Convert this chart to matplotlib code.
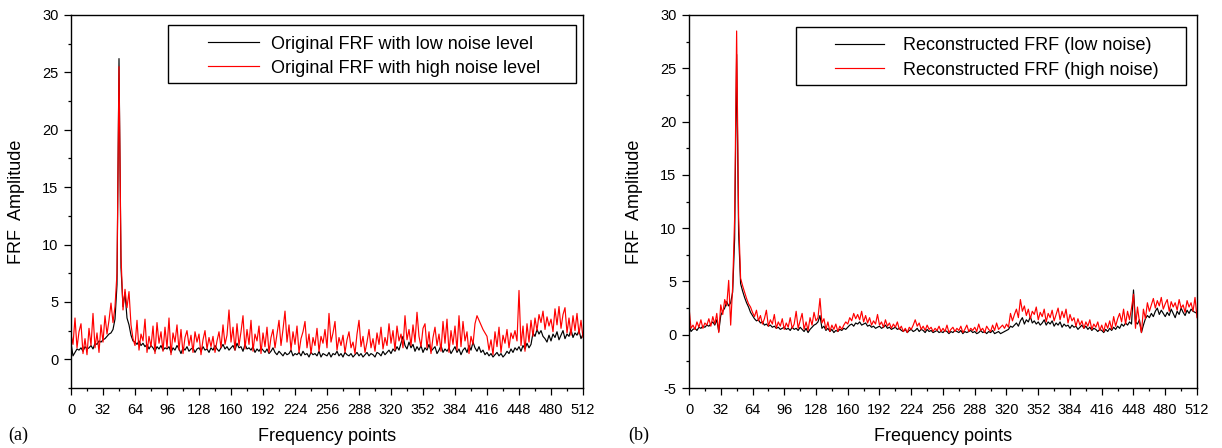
import matplotlib
matplotlib.use("Agg")
import matplotlib.pyplot as plt
from matplotlib.patches import Rectangle
from matplotlib.ticker import MultipleLocator
import numpy as np

plt.rcParams["font.family"] = ["Liberation Sans", "DejaVu Sans"]
plt.rcParams["axes.unicode_minus"] = False

# frequency points, read every 2nd point (0..512)
freq = np.arange(0, 513, 2)

# (a) original FRF, low noise
orig_low = [
    1.4, 0.3, 0.6, 0.9, 0.8, 1.0, 0.7, 1.1, 0.9, 1.0, 1.2, 0.9, 1.4, 1.3, 1.6, 1.5,
    1.7, 1.8, 2.0, 2.2, 2.3, 2.6, 3.5, 6.5, 26.2, 8.0, 4.6, 5.8, 3.6, 3.0, 2.1, 1.6,
    1.5, 1.3, 1.6, 1.2, 1.4, 1.1, 1.3, 0.9, 1.2, 1.0, 0.7, 1.1, 0.9, 1.2, 0.8, 1.0,
    0.9, 1.1, 0.6, 1.0, 0.8, 1.2, 0.9, 0.5, 1.0, 0.8, 1.1, 0.7, 0.9, 1.0, 0.6, 0.9,
    1.0, 0.7, 1.1, 0.8, 0.9, 0.6, 1.0, 0.8, 1.2, 0.9, 0.7, 1.0, 1.3, 0.9, 1.1, 0.8,
    1.0, 1.2, 0.8, 1.4, 1.0, 1.1, 0.7, 1.3, 0.9, 1.0, 0.8, 1.1, 0.6, 0.9, 0.7, 1.0,
    0.8, 0.6, 0.9, 0.5, 0.7, 1.0, 0.6, 0.4, 0.7, 0.5, 0.3, 0.6, 0.4, 0.5, 0.8, 0.3,
    0.5, 0.4, 0.6, 0.3, 0.7, 0.4, 0.5, 0.2, 0.6, 0.4, 0.5, 0.3, 0.7, 0.2, 0.5, 0.4,
    0.3, 0.6, 0.2, 0.5, 0.4, 0.7, 0.3, 0.5, 0.2, 0.6, 0.4, 0.3, 0.5, 0.2, 0.4, 0.6,
    0.3, 0.5, 0.2, 0.4, 0.6, 0.3, 0.5, 0.4, 0.2, 0.6, 0.5, 0.3, 0.7, 0.4, 0.6, 0.8,
    0.5, 0.9, 0.7, 1.1, 0.8, 1.4, 2.0, 1.2, 0.9, 1.5, 1.0, 1.3, 0.7, 1.1, 0.8, 1.2,
    0.6, 1.0, 0.8, 1.3, 0.7, 0.9, 1.1, 0.5, 0.8, 1.2, 0.6, 0.9, 0.7, 1.0, 0.5, 0.8,
    1.1, 0.6, 0.9, 0.4, 0.8, 1.0, 0.6, 1.2, 0.8, 1.5, 1.0, 0.7, 1.1, 0.6, 0.8, 0.4,
    0.6, 0.3, 0.5, 0.2, 0.4, 0.6, 0.3, 0.5, 0.2, 0.4, 0.7, 0.5, 0.9, 0.6, 1.0, 0.8,
    1.1, 0.7, 1.2, 0.9, 1.4, 1.0, 1.3, 2.3, 2.0, 2.6, 2.2, 2.5, 2.0, 1.8, 1.5, 2.1,
    1.6, 2.2, 1.9, 2.4, 1.7, 2.1, 2.5, 1.8, 2.2, 2.0, 2.6, 1.9, 2.3, 2.1, 2.5, 1.8,
    2.2,
]

# (a) original FRF, high noise
orig_high = [
    2.2, 1.3, 3.6, 1.0, 2.4, 3.1, 0.5, 1.8, 0.4, 2.7, 1.2, 4.0, 1.0, 2.3, 0.6, 3.0,
    1.5, 3.8, 2.2, 3.4, 4.9, 3.2, 4.6, 7.5, 25.5, 9.0, 4.3, 6.1, 4.5, 5.9, 3.0, 1.8,
    1.2, 3.4, 0.8, 2.2, 1.6, 3.5, 0.6, 2.0, 1.1, 2.9, 0.5, 3.2, 1.4, 2.4, 0.7, 2.8,
    1.0, 3.6, 0.4, 2.3, 1.5, 3.0, 0.8, 2.6, 0.5, 1.9, 2.5, 1.2, 2.1, 0.6, 2.4, 1.5,
    2.2, 0.4, 1.7, 2.5, 0.9, 1.9, 1.1, 2.0, 0.6, 1.6, 2.4, 1.0, 3.0, 1.3, 2.1, 4.3,
    1.5, 2.8, 0.8, 3.1, 1.2, 2.4, 3.8, 0.9, 2.6, 1.3, 3.4, 0.7, 2.2, 1.6, 2.9, 0.5,
    2.3, 1.1, 2.8, 0.6, 1.9, 2.6, 1.0, 2.2, 3.4, 1.2, 2.6, 4.2, 1.5, 3.0, 0.8, 2.4,
    1.3, 2.9, 0.6, 1.8, 2.4, 3.3, 1.0, 2.2, 0.5, 1.9, 1.2, 2.7, 0.7, 2.0, 1.4, 2.6,
    1.0, 4.0, 1.5, 2.3, 3.3, 0.8, 1.9, 1.2, 2.1, 0.6, 1.7, 2.4, 1.0, 1.5, 0.5, 2.2,
    3.4, 1.1, 2.0, 0.6, 1.5, 2.6, 1.0, 1.8, 0.7, 2.3, 1.3, 2.8, 0.9, 1.9, 1.2, 3.1,
    1.4, 2.5, 0.8, 2.9, 1.6, 2.2, 1.0, 3.8, 1.7, 2.6, 1.2, 3.0, 1.5, 4.1, 2.0, 1.1,
    2.7, 3.1, 1.0, 2.4, 0.5, 1.9, 2.8, 1.2, 2.2, 0.7, 3.3, 1.4, 3.5, 0.6, 2.5, 1.3,
    2.9, 0.8, 3.8, 1.1, 3.3, 1.6, 2.4, 0.5, 2.0, 1.3, 3.1, 3.8, 3.4, 3.0, 2.6, 2.3,
    2.0, 0.8, 1.7, 0.4, 2.4, 1.1, 2.8, 0.6, 2.1, 1.4, 2.6, 1.0, 2.3, 1.8, 2.5, 1.6,
    6.0, 1.2, 2.9, 0.7, 3.1, 1.5, 3.4, 2.0, 3.6, 2.5, 3.9, 3.2, 4.2, 2.6, 3.7, 2.9,
    3.5, 2.4, 4.4, 3.0, 4.6, 2.7, 3.9, 4.5, 2.3, 3.6, 2.1, 3.8, 2.5, 4.0, 2.2, 3.4,
    1.9,
]

# (b) reconstructed FRF, low noise
recon_low = [
    1.0, 0.3, 0.5, 0.6, 0.4, 0.7, 0.6, 0.8, 0.7, 0.9, 0.8, 1.0, 1.2, 0.9, 1.4, 0.3,
    1.8, 2.2, 2.5, 3.1, 2.7, 3.0, 4.0, 9.0, 26.3, 9.5, 4.8, 4.1, 3.5, 3.0, 2.6, 2.1,
    1.8, 1.5, 1.3, 1.4, 1.1, 1.2, 0.9, 1.0, 0.8, 0.9, 0.7, 0.8, 0.6, 0.7, 0.5, 0.6,
    0.7, 0.5, 0.6, 0.4, 0.7, 0.5, 0.6, 0.4, 0.7, 0.5, 0.3, 0.6, 0.2, 0.5, 0.7, 0.9,
    1.0, 1.2, 1.8, 0.6, 0.8, 0.4, 0.6, 0.3, 0.5, 0.2, 0.4, 0.3, 0.5, 0.4, 0.6, 0.5,
    0.7, 0.9, 1.0, 0.8, 1.1, 1.0, 1.2, 0.9, 1.0, 1.1, 0.8, 0.9, 0.7, 0.8, 0.6, 0.7,
    0.8, 0.6, 0.7, 0.9, 0.6, 0.7, 0.5, 0.6, 0.7, 0.5, 0.6, 0.4, 0.3, 0.5, 0.2, 0.4,
    0.5, 0.3, 0.4, 0.6, 0.3, 0.5, 0.4, 0.2, 0.5, 0.3, 0.4, 0.2, 0.3, 0.4, 0.2, 0.3,
    0.2, 0.4, 0.3, 0.1, 0.3, 0.2, 0.4, 0.3, 0.2, 0.4, 0.1, 0.3, 0.2, 0.3, 0.4, 0.2,
    0.3, 0.1, 0.2, 0.4, 0.2, 0.3, 0.1, 0.3, 0.2, 0.4, 0.1, 0.2, 0.3, 0.1, 0.2, 0.3,
    0.4, 0.5, 0.8, 0.7, 0.9, 1.1, 0.8, 1.3, 1.6, 1.0, 1.4, 1.2, 1.7, 1.1, 1.3, 1.0,
    1.2, 0.9, 1.1, 1.4, 0.9, 1.2, 1.0, 1.3, 0.8, 1.1, 0.9, 1.2, 0.7, 1.0, 0.8, 0.9,
    0.6, 0.9, 0.7, 0.8, 0.5, 0.7, 0.9, 0.6, 0.8, 0.5, 0.7, 0.4, 0.6, 0.5, 0.3, 0.5,
    0.4, 0.2, 0.5, 0.3, 0.6, 0.4, 0.7, 0.5, 0.8, 0.6, 1.0, 0.8, 1.1, 0.9, 1.2, 1.0,
    4.2, 1.2, 1.0, 1.4, 0.2, 0.9, 1.5, 1.8, 1.6, 2.0, 1.7, 2.2, 2.5, 1.9, 2.3, 2.0,
    1.7, 2.1, 1.8, 2.4, 2.0, 1.6, 2.2, 1.9, 2.5, 2.1, 1.8, 2.3, 2.0, 2.4, 2.2, 2.1,
    2.0,
]

# (b) reconstructed FRF, high noise
recon_high = [
    2.6, 0.6, 0.9, 0.5, 1.2, 0.7, 1.4, 0.6, 1.1, 0.9, 1.5, 0.8, 1.7, 1.0, 2.0, 0.2,
    2.8, 1.9, 3.3, 2.7, 5.1, 0.9, 4.5, 11.0, 28.5, 11.0, 5.3, 4.6, 4.0, 3.4, 2.9, 2.6,
    2.1, 1.7, 2.3, 1.3, 1.8, 1.0, 1.5, 2.3, 0.8, 1.4, 1.0, 1.9, 0.6, 1.2, 0.8, 1.5,
    0.5, 1.1, 0.7, 1.6, 0.6, 1.0, 2.2, 0.6, 1.3, 2.0, 0.5, 1.2, 0.4, 1.6, 0.9, 2.1,
    1.3, 1.6, 3.4, 1.1, 1.5, 0.5, 1.2, 0.3, 0.9, 0.5, 1.0, 0.3, 0.8, 0.5, 0.9, 1.2,
    1.0, 1.6, 1.3, 2.0, 1.5, 1.9, 1.4, 2.2, 1.2, 1.8, 1.1, 1.6, 0.9, 1.3, 1.0, 1.9,
    0.9, 1.2, 0.7, 1.4, 0.8, 1.1, 0.6, 1.0, 0.7, 1.2, 0.5, 0.8, 0.3, 0.6, 0.2, 0.7,
    0.5, 0.9, 1.4, 0.8, 1.1, 0.5, 0.8, 0.4, 0.9, 0.5, 0.7, 0.3, 0.6, 0.4, 0.8, 0.3,
    0.6, 0.3, 0.9, 0.2, 0.5, 0.7, 0.3, 0.6, 0.4, 0.8, 0.2, 0.5, 0.9, 0.3, 0.6, 0.4,
    0.7, 0.3, 1.0, 0.4, 0.6, 0.2, 0.8, 0.5, 0.3, 0.9, 0.4, 1.1, 0.5, 0.7, 0.9, 0.6,
    1.0, 0.7, 2.0, 1.3, 1.9, 2.4, 1.6, 3.3, 2.2, 2.7, 1.8, 2.4, 1.5, 2.2, 1.9, 2.6,
    1.4, 2.1, 1.7, 2.4, 1.2, 2.0, 1.6, 2.3, 1.3, 1.9, 2.5, 1.4, 2.2, 1.6, 2.4, 1.1,
    1.9, 1.3, 1.6, 0.8, 1.5, 0.9, 1.3, 0.6, 1.2, 0.8, 1.4, 0.5, 1.0, 0.7, 1.2, 0.4,
    0.9, 0.3, 1.1, 0.6, 1.3, 0.5, 1.7, 0.8, 1.5, 2.0, 1.2, 2.4, 1.0, 2.2, 1.4, 2.5,
    3.8, 0.6, 2.6, 1.2, 0.2, 2.4, 1.5, 3.0, 2.2, 2.8, 3.4, 2.5, 3.2, 2.7, 3.5, 2.4,
    2.9, 3.3, 2.2, 3.1, 2.6, 3.0, 2.3, 3.3, 2.5, 2.8, 2.1, 3.2, 2.6, 3.0, 2.2, 3.5,
    1.6,
]

labels_a = ["Original FRF with low noise level", "Original FRF with high noise level"]
labels_b = ["Reconstructed FRF (low noise)", "Reconstructed FRF (high noise)"]
xticks = np.arange(0, 513, 32)

W, H = 1222, 448
fig = plt.figure(figsize=(W / 100, H / 100), dpi=100)


def px_axes(x0, x1, top, bottom):
    return fig.add_axes([x0 / W, 1 - bottom / H, (x1 - x0) / W, (bottom - top) / H])


def style_axes(ax, ylim, yticks):
    ax.set_xlim(0, 512)
    ax.set_ylim(*ylim)
    ax.set_xticks(xticks)
    ax.xaxis.set_minor_locator(MultipleLocator(16))
    ax.set_yticks(yticks)
    ax.yaxis.set_minor_locator(MultipleLocator(2.5))
    ax.tick_params(which="both", direction="out", top=False, right=False,
                   labelsize=10.5, width=0.9)
    ax.tick_params(axis="x", which="major", length=5, pad=6)
    ax.tick_params(axis="y", which="major", length=5, pad=4)
    ax.tick_params(which="minor", length=2.5)
    for s in ax.spines.values():
        s.set_linewidth(1.0)
    ax.set_xlabel("Frequency points", fontsize=13, labelpad=8)
    ax.set_ylabel("FRF  Amplitude", fontsize=13, labelpad=12)


def legend_box(ax, lines, labels, anchor, hlen, hpad, box):
    ax.legend(lines, labels, loc="upper left", bbox_to_anchor=anchor, frameon=False,
              fontsize=13, handlelength=hlen, handletextpad=hpad,
              borderpad=0, borderaxespad=0, labelspacing=0.4)
    ax.add_patch(Rectangle((box[0], box[1]), box[2] - box[0], box[3] - box[1],
                           transform=ax.transAxes, fill=False, lw=1.0,
                           ec="black", zorder=5))


# (a)
ax1 = px_axes(71, 583, 15, 388)
l1, = ax1.plot(freq, orig_low, color="black", lw=0.85)
l2, = ax1.plot(freq, orig_high, color="#ff0000", lw=0.85)
style_axes(ax1, (-2.5, 30), np.arange(0, 31, 5))
legend_box(ax1, [l1, l2], labels_a, (0.268, 0.945), 2.8, 0.65,
           (0.189, 0.818, 0.986, 0.973))

# (b)
ax2 = px_axes(689, 1197, 15, 388)
l3, = ax2.plot(freq, recon_low, color="black", lw=0.85)
l4, = ax2.plot(freq, recon_high, color="#ff0000", lw=0.85)
style_axes(ax2, (-5, 30), np.arange(-5, 31, 5))
legend_box(ax2, [l3, l4], labels_b, (0.287, 0.94), 2.75, 1.0,
           (0.211, 0.812, 0.978, 0.968))

fig.text(8 / W, 1 - 435 / H, "(a)", family=["Liberation Serif", "DejaVu Serif"],
         fontsize=13, va="center", ha="left")
fig.text(628 / W, 1 - 435 / H, "(b)", family=["Liberation Serif", "DejaVu Serif"],
         fontsize=13, va="center", ha="left")

fig.savefig("out.png", dpi=100)
